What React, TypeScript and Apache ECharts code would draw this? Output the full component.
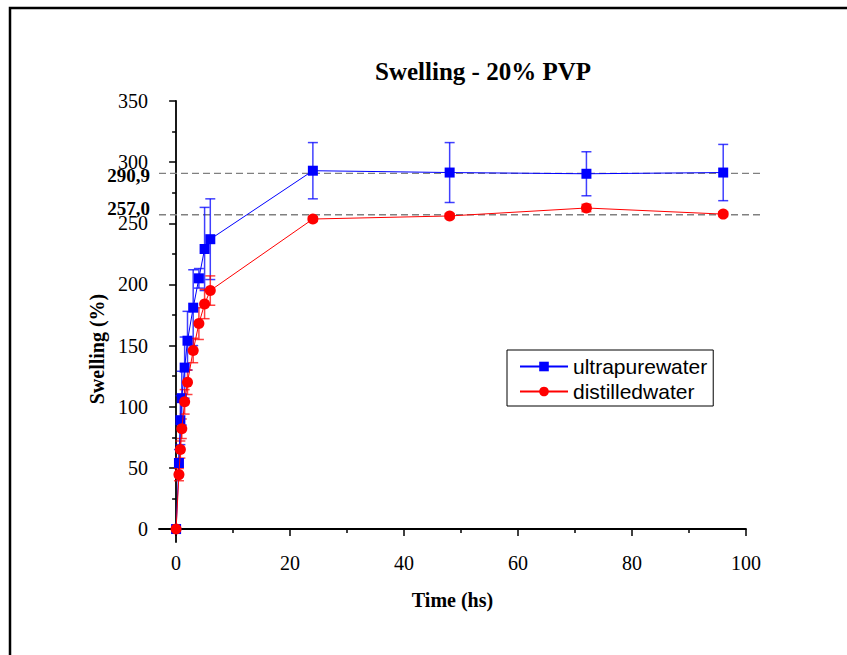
import React, { useEffect, useRef } from "react";
import * as echarts from "echarts";

const timeHours = [0, 0.5, 0.75, 1, 1.5, 2, 3, 4, 5, 6, 24, 48, 72, 96];
const ultrapureValues = [0, 54, 89, 107, 132, 154, 181, 205, 229, 237, 293, 291.5, 290.5, 291.5];
const ultrapureErrors = [0, 11, 20, 22, 25, 24, 31, 8, 34, 33, 23, 24.5, 18, 23];
const distilledValues = [0, 44.5, 65, 82, 104, 120, 146, 168, 184, 195, 253.5, 256, 262.5, 257.5];
const distilledErrors = [0, 5, 7, 8, 10, 10, 10, 13, 12, 12, 2, 2, 3, 2];
const refValues = [290.9, 257.0];
const refLabels = ["290,9", "257,0"];
const xMajorTicks = [0, 20, 40, 60, 80, 100];
const xMinorTicks = [10, 30, 50, 70, 90];
const yMajorTicks = [0, 50, 100, 150, 200, 250, 300, 350];
const yMinorTicks = [25, 75, 125, 175, 225, 275, 325];

const SERIF = "'Liberation Serif', 'Times New Roman', serif";
const SANS = "'Liberation Sans', Arial, sans-serif";

function errorSeries(name: string, color: string, values: number[], errs: number[]) {
  return {
    type: "custom",
    name: name + "-err",
    xAxisIndex: 0,
    yAxisIndex: 0,
    silent: true,
    z: 2,
    data: timeHours.map((t, i) => [t, values[i], errs[i]]),
    renderItem: (params: any, api: any) => {
      const x = api.value(0);
      const y = api.value(1);
      const e = api.value(2);
      if (!e) return null;
      const top = api.coord([x, y + e]);
      const bot = api.coord([x, y - e]);
      const hw = 5;
      const style = { stroke: color, lineWidth: 1.5, opacity: 0.75 };
      return {
        type: "group",
        children: [
          { type: "line", shape: { x1: top[0], y1: top[1], x2: bot[0], y2: bot[1] }, style },
          { type: "line", shape: { x1: top[0] - hw, y1: top[1], x2: top[0] + hw, y2: top[1] }, style },
          { type: "line", shape: { x1: bot[0] - hw, y1: bot[1], x2: bot[0] + hw, y2: bot[1] }, style },
        ],
      };
    },
  };
}

export default function App() {
  const ref = useRef<HTMLDivElement>(null);
  useEffect(() => {
    if (!ref.current) return;
    const chart = echarts.init(ref.current, null, { renderer: "svg" });
    const xMin = -3;
    const xMax = 100;
    const yMin = -10.6;
    const yMax = 350;
    const axisBase = {
      axisLine: { show: true, lineStyle: { color: "#000", width: 1.8 } },
      splitLine: { show: false },
    };
    chart.setOption({
      animation: false,
      backgroundColor: "#fff",
      title: {
        text: "Swelling - 20% PVP",
        left: 478,
        top: 54,
        textAlign: "center",
        textStyle: { fontFamily: SERIF, fontWeight: "bold", fontSize: 25, color: "#000" },
      },
      graphic: [
        {
          type: "rect",
          shape: { x: 10, y: 8, width: 900, height: 800 },
          style: { fill: "none", stroke: "#000", lineWidth: 2.5 },
          silent: true,
        },
        {
          type: "text",
          x: 97,
          y: 349,
          rotation: Math.PI / 2,
          silent: true,
          style: {
            text: "Swelling (%)",
            fill: "#000",
            font: "bold 20px " + SERIF,
            textAlign: "center",
            textVerticalAlign: "middle",
          },
        },
      ],
      legend: {
        orient: "vertical",
        left: 507,
        top: 350,
        data: ["ultrapurewater", "distilledwater"],
        borderColor: "#000",
        borderWidth: 1,
        padding: [6, 6, 4, 12],
        itemGap: 4,
        itemWidth: 48,
        itemHeight: 12,
        textStyle: { fontFamily: SANS, fontSize: 21, color: "#000" },
      },
      grid: { left: 159, right: 101, top: 101, bottom: 113, containLabel: false },
      xAxis: [
        {
          ...axisBase,
          type: "value",
          min: xMin,
          max: xMax,
          position: "bottom",
          name: "Time (hs)",
          nameLocation: "middle",
          nameGap: 48,
          nameTextStyle: { fontFamily: SERIF, fontWeight: "bold", fontSize: 20, color: "#000" },
          axisTick: { show: true, length: 7, customValues: xMajorTicks, lineStyle: { color: "#000", width: 1.5 } },
          axisLabel: {
            show: true,
            customValues: xMajorTicks,
            margin: 11,
            fontFamily: SERIF,
            fontSize: 20,
            color: "#000",
          },
        },
        {
          type: "value",
          min: xMin,
          max: xMax,
          position: "bottom",
          axisLine: { show: false },
          splitLine: { show: false },
          axisTick: { show: true, length: 4, customValues: xMinorTicks, lineStyle: { color: "#000", width: 1.5 } },
          axisLabel: { show: false },
        },
      ],
      yAxis: [
        {
          ...axisBase,
          type: "value",
          min: yMin,
          max: yMax,
          axisTick: { show: true, length: 7, customValues: yMajorTicks, lineStyle: { color: "#000", width: 1.5 } },
          axisLabel: {
            show: true,
            customValues: yMajorTicks,
            margin: 11,
            fontFamily: SERIF,
            fontSize: 20,
            color: "#000",
          },
        },
        {
          type: "value",
          min: yMin,
          max: yMax,
          position: "left",
          axisLine: { show: false },
          splitLine: { show: false },
          axisTick: { show: true, length: 4, customValues: yMinorTicks, lineStyle: { color: "#000", width: 1.5 } },
          axisLabel: { show: false },
        },
      ],
      series: [
        {
          type: "custom",
          name: "ref",
          silent: true,
          z: 1,
          data: refValues.map((v, i) => [xMin, v, i]),
          renderItem: (params: any, api: any) => {
            const v = api.value(1);
            const i = api.value(2);
            const left = api.coord([xMin, v]);
            const right = api.coord([xMax, v]);
            return {
              type: "group",
              children: [
                {
                  type: "line",
                  shape: { x1: left[0], y1: left[1], x2: right[0] + 14, y2: right[1] },
                  style: { stroke: "#808080", lineWidth: 1.3, lineDash: [7, 4] },
                },
                {
                  type: "text",
                  x: left[0] - 9,
                  y: left[1] + (i === 1 ? -6 : 2),
                  style: {
                    text: refLabels[i],
                    fill: "#000",
                    font: "bold 19px " + SERIF,
                    textAlign: "right",
                    textVerticalAlign: "middle",
                  },
                },
              ],
            };
          },
        },
        errorSeries("ultrapurewater", "#0000ff", ultrapureValues, ultrapureErrors),
        {
          type: "line",
          name: "ultrapurewater",
          data: timeHours.map((t, i) => [t, ultrapureValues[i]]),
          color: "#0000ff",
          symbol: "rect",
          symbolSize: 10,
          lineStyle: { color: "#0000ff", width: 1 },
          itemStyle: { color: "#0000ff" },
          z: 3,
        },
        errorSeries("distilledwater", "#ff0000", distilledValues, distilledErrors),
        {
          type: "line",
          name: "distilledwater",
          data: timeHours.map((t, i) => [t, distilledValues[i]]),
          color: "#ff0000",
          symbol: "circle",
          symbolSize: 11,
          lineStyle: { color: "#ff0000", width: 1 },
          itemStyle: { color: "#ff0000" },
          z: 4,
        },
      ],
    });
    return () => chart.dispose();
  }, []);
  return (
    <div
      ref={ref}
      style={{ position: "absolute", left: 0, top: 0, width: 847, height: 655, background: "#fff" }}
    />
  );
}
